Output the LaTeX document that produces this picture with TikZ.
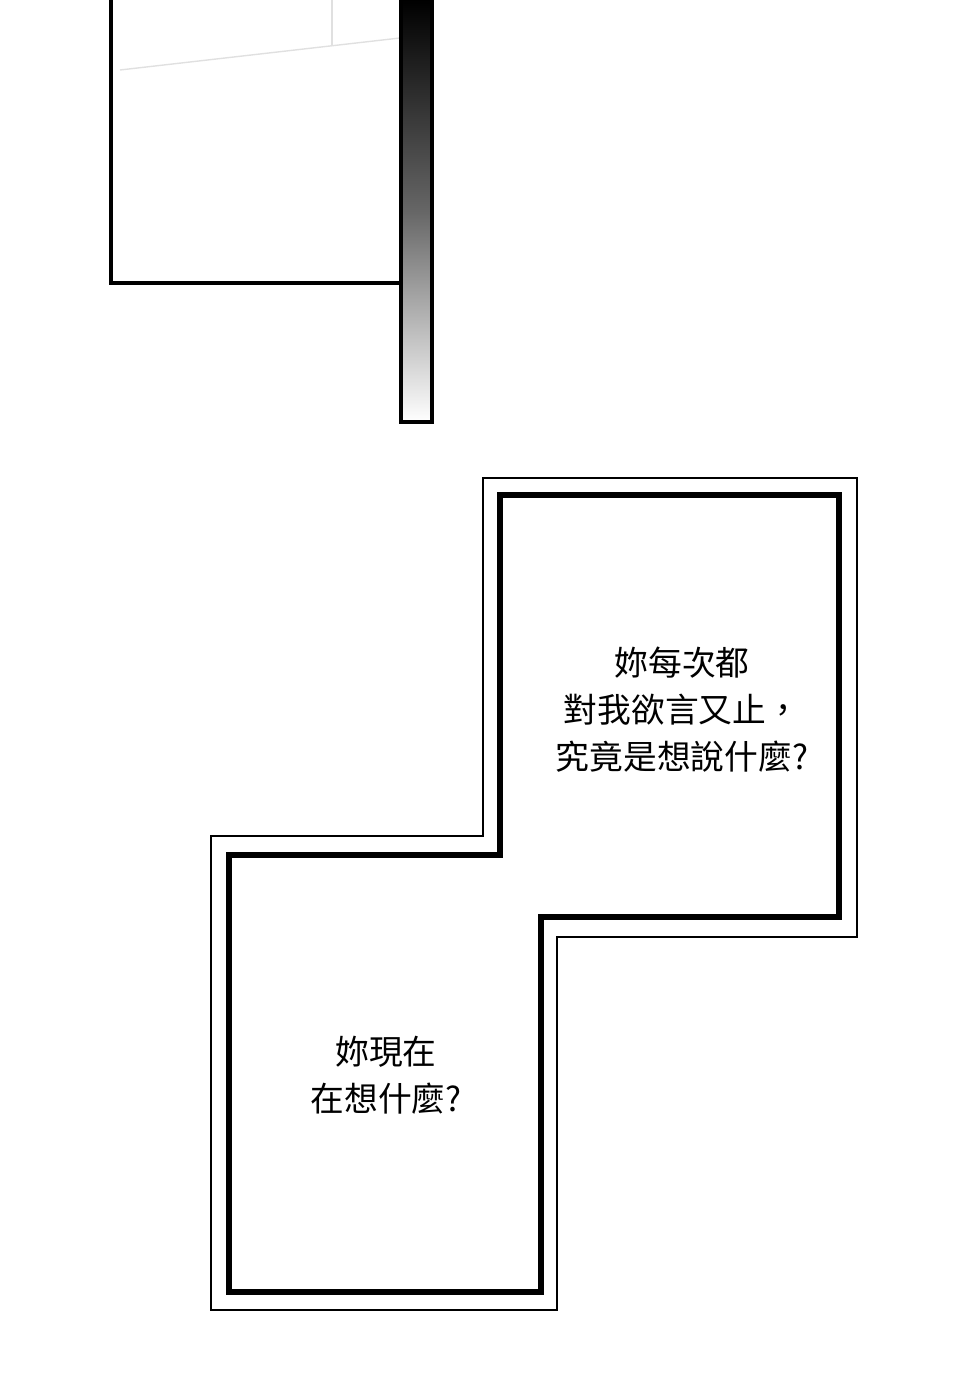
\documentclass[tikz,border=0pt]{standalone}
\usepackage{fontspec}
\newfontfamily\cjk{Noto Sans CJK TC}
\begin{document}
\begin{tikzpicture}[x=0.01cm,y=-0.01cm,
    frame/.style={draw=black, line width=1.2pt},
    thinline/.style={draw=black, line width=0.5pt},
    bubbletext/.style={font=\cjk\fontsize{9.6}{13.4}\selectfont, align=center}
]
    % Canvas
    \useasboundingbox (0,0) rectangle (960,1386);
    % Upper panel
    \draw[black!12, line width=0.4pt] (120,70) -- (400,38);
    \draw[black!12, line width=0.4pt] (332,0) -- (332,46);
    \draw[frame] (111,0) -- (111,283) -- (401,283);
    \shade[top color=black, bottom color=white, middle color=black!60] (401,0) rectangle (432,422);
    \draw[frame] (401,0) -- (401,422) -- (432,422) -- (432,0);
    % Speech bubble
    \draw[thinline] (483,478) -- (857,478) -- (857,937) -- (557,937) -- (557,1310)
        -- (211,1310) -- (211,836) -- (483,836) -- cycle;
    \draw[frame, line width=1.5pt] (500,495) -- (839,495) -- (839,917) -- (541,917)
        -- (541,1292) -- (229,1292) -- (229,855) -- (500,855) -- cycle;
    % Texts
    \node[bubbletext] (upper) at (682,710) {妳每次都\\對我欲言又止，\\究竟是想說什麼?};
    \node[bubbletext] (lower) at (386,1075) {妳現在\\在想什麼?};
\end{tikzpicture}
\end{document}
